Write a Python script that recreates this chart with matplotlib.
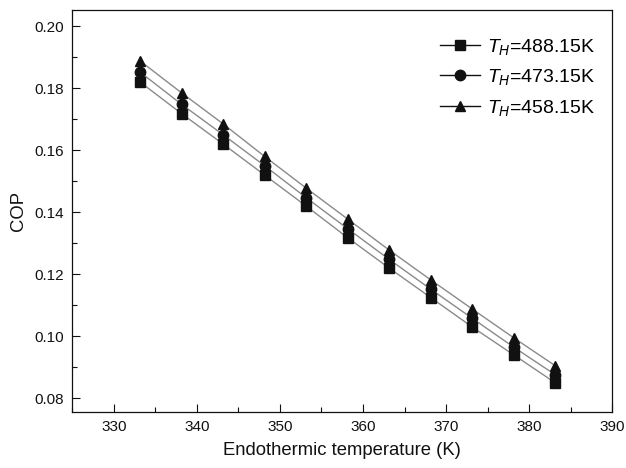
"""COP versus endothermic temperature for three driving temperatures T_H."""

import matplotlib
matplotlib.use("Agg")
import matplotlib.pyplot as plt
from matplotlib.ticker import MultipleLocator

plt.rcParams["font.family"] = ["Liberation Sans", "DejaVu Sans"]
plt.rcParams["mathtext.fontset"] = "custom"
plt.rcParams["mathtext.it"] = "Liberation Sans:italic"
plt.rcParams["mathtext.rm"] = "Liberation Sans"

# endothermic temperature (K)
T_L = [333.15, 338.15, 343.15, 348.15, 353.15, 358.15,
       363.15, 368.15, 373.15, 378.15, 383.15]

# COP
COP_488 = [0.1820, 0.1718, 0.1620, 0.1520, 0.1420, 0.1318,
           0.1220, 0.1125, 0.1030, 0.0940, 0.0850]
COP_473 = [0.1852, 0.1748, 0.1650, 0.1550, 0.1447, 0.1347,
           0.1248, 0.1152, 0.1058, 0.0965, 0.0876]
COP_458 = [0.1888, 0.1785, 0.1685, 0.1580, 0.1478, 0.1378,
           0.1278, 0.1182, 0.1088, 0.0995, 0.0905]

LABELS = [r"$T_H$=488.15K", r"$T_H$=473.15K", r"$T_H$=458.15K"]
MARKERS = ["s", "o", "^"]

LINE = "#8a8a8a"
INK = "#111111"


def main() -> None:
    fig = plt.figure(figsize=(6.26, 4.68), dpi=100)
    ax = fig.add_axes([0.1155, 0.1203, 0.8625, 0.8583])

    series = [COP_488, COP_473, COP_458]
    handles = []
    for y, m, lab in zip(series, MARKERS, LABELS):
        ax.plot(T_L, y, color=LINE, linewidth=1.0, zorder=2)
        ax.plot(T_L, y, linestyle="none", marker=m, markersize=7.5,
                color=INK, zorder=3)
        # legend handle: black line through a black marker
        h, = ax.plot([], [], color=INK, linewidth=1.0, marker=m,
                     markersize=7.5, label=lab)
        handles.append(h)

    ax.set_xlim(325, 390)
    ax.set_ylim(0.0757, 0.2052)
    ax.xaxis.set_major_locator(MultipleLocator(10))
    ax.xaxis.set_minor_locator(MultipleLocator(5))
    ax.yaxis.set_major_locator(MultipleLocator(0.02))
    ax.yaxis.set_minor_locator(MultipleLocator(0.01))
    ax.yaxis.set_major_formatter(plt.FormatStrFormatter("%.2f"))

    ax.tick_params(which="both", direction="in", top=False, right=False,
                   colors=INK, labelsize=11, width=0.8)
    ax.tick_params(which="major", length=6, pad=6)
    ax.tick_params(which="minor", length=3.5)
    for s in ax.spines.values():
        s.set_linewidth(0.9)
        s.set_color(INK)

    ax.set_xlabel("Endothermic temperature (K)", fontsize=13.3, color=INK,
                  labelpad=6)
    ax.set_ylabel("COP", fontsize=13.3, color=INK, labelpad=5)

    ax.legend(handles=handles, loc="upper left", frameon=False,
              bbox_to_anchor=(0.703, 0.922), bbox_transform=fig.transFigure,
              fontsize=14, handlelength=2.05, handletextpad=0.38,
              labelspacing=0.55, borderpad=0, borderaxespad=0)

    fig.savefig("out.png", dpi=100, facecolor="white")


if __name__ == "__main__":
    main()
